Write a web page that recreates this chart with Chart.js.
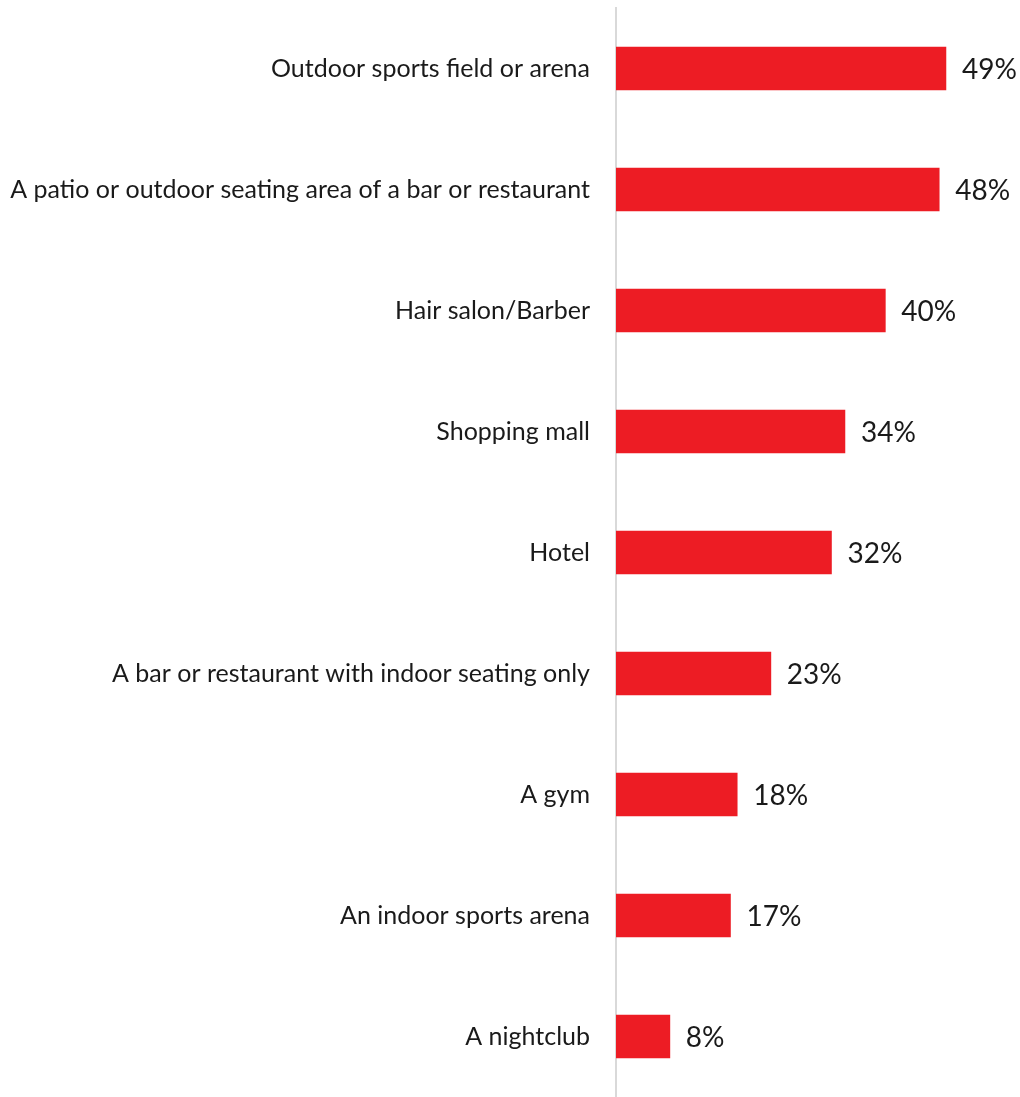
<!DOCTYPE html>
<html>
<head>
<meta charset="utf-8">
<script src="https://cdn.jsdelivr.net/npm/chart.js@4/dist/chart.umd.min.js"></script>
<style>
  html, body { margin: 0; padding: 0; background: #fff; }
  #wrap { width: 1020px; height: 1097px; position: relative; }
</style>
</head>
<body>
<div id="wrap"><canvas id="graph"></canvas></div>
<script>
const venues = [
  'Outdoor sports field or arena',
  'A patio or outdoor seating area of a bar or restaurant',
  'Hair salon/Barber',
  'Shopping mall',
  'Hotel',
  'A bar or restaurant with indoor seating only',
  'A gym',
  'An indoor sports arena',
  'A nightclub'
]
const shares = [49, 48, 40, 34, 32, 23, 18, 17, 8]

const FONT = 'Lato, "Open Sans", sans-serif'

// percent labels just past the end of each bar
const barValueText = {
  id: 'barValueText',
  afterDatasetsDraw(chart) {
    const { ctx } = chart
    const meta = chart.getDatasetMeta(0)
    ctx.save()
    ctx.font = '28px ' + FONT
    ctx.fillStyle = '#1a1a1a'
    ctx.textAlign = 'left'
    ctx.textBaseline = 'middle'
    meta.data.forEach((bar, i) => {
      ctx.fillText(shares[i] + '%', bar.x + 16, bar.y + 1)
    })
    ctx.restore()
  }
}

new Chart(document.getElementById('graph'), {
  type: 'bar',
  plugins: [barValueText],
  data: {
    labels: venues,
    datasets: [{
      data: shares,
      backgroundColor: '#ED1C24',
      borderWidth: 0,
      barThickness: 43
    }]
  },
  options: {
    indexAxis: 'y',
    responsive: true,
    maintainAspectRatio: false,
    animation: false,
    layout: { padding: { top: 8, right: 0, bottom: -2, left: 0 } },
    plugins: { legend: { display: false }, tooltip: { enabled: false } },
    scales: {
      x: { display: false, min: 0, max: 60 },
      y: {
        afterFit(scale) {
          // fixed label column; no extra room above/below the first and last labels
          scale.width = 616
          scale.paddingTop = 0
          scale.paddingBottom = 0
        },
        grid: { display: false, drawTicks: false },
        border: { display: true, color: '#d9d9d9', width: 2 },
        ticks: { padding: 26, color: '#1a1a1a', font: { family: FONT, size: 25 } }
      }
    }
  }
})
</script>
</body>
</html>
